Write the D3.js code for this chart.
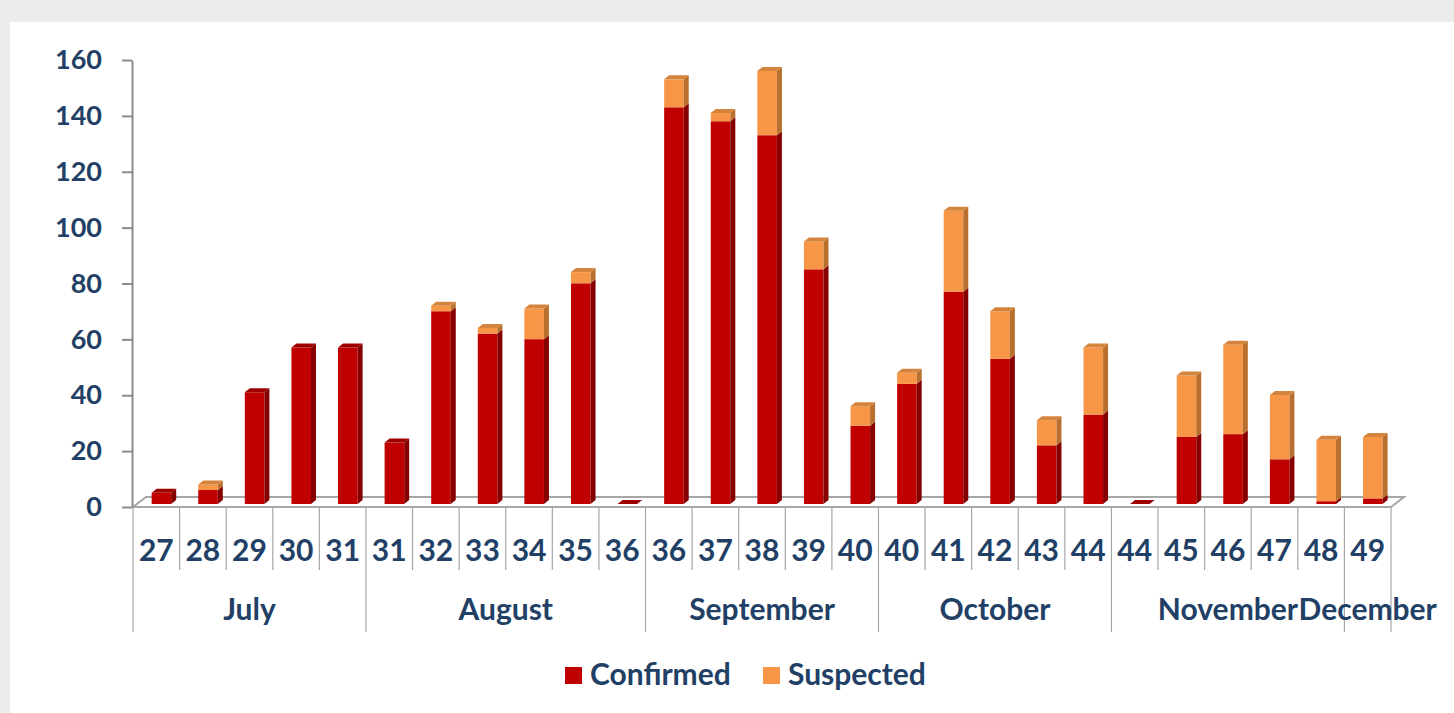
<!DOCTYPE html>
<html>
<head>
<meta charset="utf-8">
<script src="https://cdn.jsdelivr.net/npm/d3@7"></script>
<style>
  html, body { margin: 0; padding: 0; background: #ececec; }
  svg { display: block; }
</style>
</head>
<body>
<div id="chart"></div>
<script>
// Datos del gráfico
const weeks = ["27","28","29","30","31","31","32","33","34","35","36","36","37","38","39","40","40","41","42","43","44","44","45","46","47","48","49"];
const monthNames = ["July","August","September","October","November","December"];
const monthSpans = [5, 6, 5, 5, 5, 1];
const confirmed = [4,5,40,56,56,22,69,61,59,79,0,142,137,132,84,28,43,76,52,21,32,0,24,25,16,1,2];
const suspected = [0,2,0,0,0,0,2,2,11,4,0,10,3,23,10,7,4,29,17,9,24,0,22,32,23,22,22];
const yTicks = [0,20,40,60,80,100,120,140,160];
const seriesNames = ["Confirmed","Suspected"];

const width = 1454;
const height = 713;
const textColor = "#223f66";
const font = "Lato, 'Open Sans', sans-serif";

const colors = {
  Confirmed: { front: "#c00000", side: "#860000", top: "#9e0000" },
  Suspected: { front: "#f79646", side: "#b9702f", top: "#d5843e" }
};

const svg = d3.select("#chart").append("svg")
  .attr("width", width)
  .attr("height", height)
  .attr("viewBox", [0, 0, width, height]);

// Marco blanco
svg.append("rect")
  .attr("x", 10).attr("y", 22)
  .attr("width", width - 10).attr("height", height - 22)
  .attr("fill", "#ffffff");

const x = d3.scaleBand().domain(d3.range(weeks.length)).range([133, 1391]).padding(0);
const y = d3.scaleLinear().domain([0, 160]).range([507, 60]);
const bw = x.bandwidth();

// profundidad 3D
const fdx = 13, fdy = -10;   // suelo
const bdx = 5, bdy = -4;     // barras
const lift = 3;

// Suelo
const floorPts = [[133, 507], [1391, 507], [1391 + fdx, 507 + fdy], [133 + fdx, 507 + fdy]];
svg.append("path")
  .attr("d", "M" + floorPts.map(p => p.join(",")).join("L") + "Z")
  .attr("fill", "#ffffff")
  .attr("stroke", "#a6a6a6")
  .attr("stroke-width", 2);

// Eje Y
const yAxis = svg.append("g")
  .attr("transform", "translate(132,0)")
  .call(d3.axisLeft(y).tickValues(yTicks).tickSize(10).tickPadding(20).tickSizeOuter(0));
yAxis.select(".domain").attr("stroke", "#8c8c8c").attr("stroke-width", 2);
yAxis.selectAll(".tick line").attr("stroke", "#8c8c8c").attr("stroke-width", 2);
yAxis.selectAll(".tick text")
  .attr("fill", textColor)
  .attr("font-family", font)
  .attr("font-weight", 700)
  .attr("font-size", 27);

// Barras apiladas
const data = weeks.map((w, i) => ({ i, Confirmed: confirmed[i], Suspected: suspected[i] }));
const stack = d3.stack().keys(seriesNames)(data);

const barsG = svg.append("g");
data.forEach((d, i) => {
  const x0 = x(i) + bw * 0.4;
  const w = bw * 0.42;
  stack.forEach((layer, k) => {
    const s = layer[i];
    const c = colors[layer.key];
    const yTop = y(s[1]) - lift;
    const yBot = y(s[0]) - lift;
    if (s[1] - s[0] <= 0 && !(k === 0 && d.Suspected === 0)) return;
    // frente
    barsG.append("rect")
      .attr("x", x0).attr("y", yTop)
      .attr("width", w).attr("height", Math.max(0, yBot - yTop))
      .attr("fill", c.front);
    // lateral
    barsG.append("path")
      .attr("d", `M${x0 + w},${yTop}L${x0 + w + bdx},${yTop + bdy}L${x0 + w + bdx},${yBot + bdy}L${x0 + w},${yBot}Z`)
      .attr("fill", c.side);
    // tapa
    const isTop = (k === stack.length - 1) || (k === 0 && d.Suspected === 0);
    if (isTop) {
      barsG.append("path")
        .attr("d", `M${x0},${yTop}L${x0 + bdx},${yTop + bdy}L${x0 + w + bdx},${yTop + bdy}L${x0 + w},${yTop}Z`)
        .attr("fill", c.top);
    }
  });
});

// Eje X: líneas de categoría y de mes
const monthStarts = [];
let acc = 0;
monthSpans.forEach(n => { monthStarts.push(acc); acc += n; });
const boundaries = new Set(monthStarts.concat([weeks.length]));

const xg = svg.append("g");
d3.range(weeks.length + 1).forEach(i => {
  const px = i < weeks.length ? x(i) : x.range()[1];
  xg.append("line")
    .attr("x1", px).attr("x2", px)
    .attr("y1", 508).attr("y2", boundaries.has(i) ? 632 : 570)
    .attr("stroke", "#a6a6a6").attr("stroke-width", 1.2);
});

xg.selectAll("text.week")
  .data(weeks)
  .join("text")
  .attr("class", "week")
  .attr("x", (d, i) => x(i) + bw / 2)
  .attr("y", 561)
  .attr("text-anchor", "middle")
  .attr("fill", textColor)
  .attr("font-family", font)
  .attr("font-weight", 700)
  .attr("font-size", 30)
  .text(d => d);

xg.selectAll("text.month")
  .data(monthNames)
  .join("text")
  .attr("class", "month")
  .attr("x", (d, i) => {
    const a = x(monthStarts[i]);
    const endIdx = monthStarts[i] + monthSpans[i];
    const b = endIdx < weeks.length ? x(endIdx) : x.range()[1];
    return (a + b) / 2;
  })
  .attr("y", 620)
  .attr("text-anchor", "middle")
  .attr("fill", textColor)
  .attr("font-family", font)
  .attr("font-weight", 700)
  .attr("font-size", 30)
  .text(d => d);

// Leyenda
const legend = svg.append("g");
const legendX = [565, 763];
seriesNames.forEach((name, k) => {
  legend.append("rect")
    .attr("x", legendX[k]).attr("y", 667)
    .attr("width", 17).attr("height", 17)
    .attr("fill", colors[name].front);
  legend.append("text")
    .attr("x", legendX[k] + 25).attr("y", 685)
    .attr("fill", textColor)
    .attr("font-family", font)
    .attr("font-weight", 700)
    .attr("font-size", 30)
    .text(name);
});
</script>
</body>
</html>
